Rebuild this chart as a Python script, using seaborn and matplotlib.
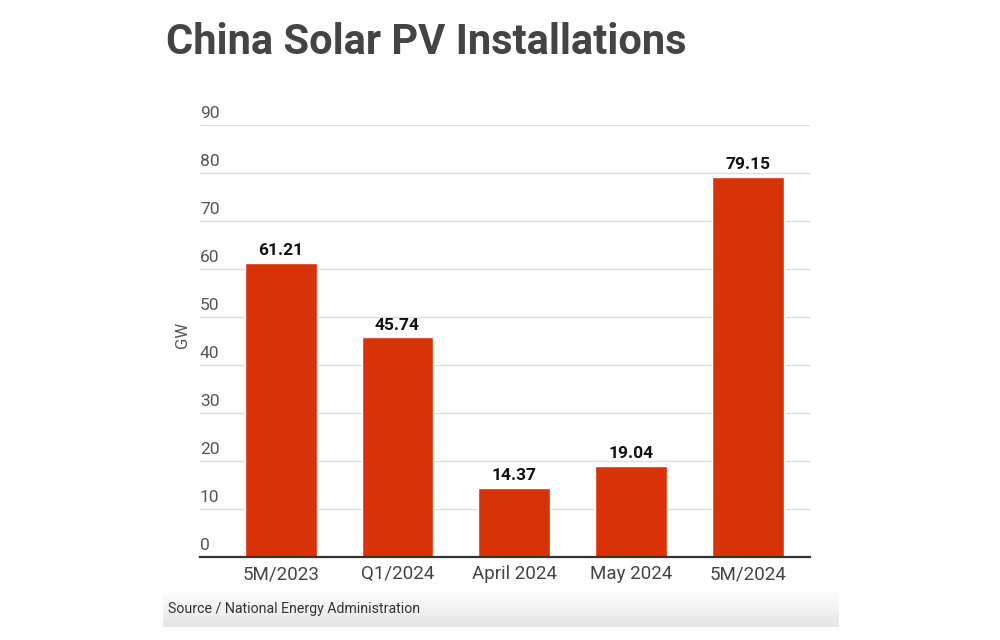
import matplotlib
matplotlib.use("Agg")
import matplotlib.pyplot as plt
import seaborn as sns
import numpy as np
import pandas as pd

categories = ["5M/2023", "Q1/2024", "April 2024", "May 2024", "5M/2024"]
values = [61.21, 45.74, 14.37, 19.04, 79.15]
value_labels = ["61.21", "45.74", "14.37", "19.04", "79.15"]
yticks = [0, 10, 20, 30, 40, 50, 60, 70, 80, 90]

sns.set_theme(style="white")
plt.rcParams['font.family'] = ['Roboto', 'DejaVu Sans']

df = pd.DataFrame({"cat": categories, "val": values})

W, H = 1000, 640
fig = plt.figure(figsize=(W / 100, H / 100), dpi=100)
fig.patch.set_facecolor("white")

# axes: x 200..810, y 125..557 (pixels)
ax = fig.add_axes([200 / W, 1 - 557 / H, 610 / W, (557 - 125) / H])
sns.barplot(data=df, x="cat", y="val", color="#D93208", saturation=1,
            width=0.615, ax=ax, zorder=3)
ax.set_xlim(-0.69, 4.53)
ax.set_ylim(0, 90)

for s in ["top", "right", "left"]:
    ax.spines[s].set_visible(False)
ax.spines["bottom"].set_color("#333333")
ax.spines["bottom"].set_linewidth(1.6)
ax.spines["bottom"].set_zorder(4)

ax.set_yticks(yticks)
ax.set_yticklabels([])
ax.tick_params(axis="y", length=0)
ax.yaxis.grid(True, color="#dddddd", linewidth=1, zorder=0)
ax.set_axisbelow(True)

trans = ax.get_yaxis_transform()
for t in yticks:
    ax.text(0.0, t + 0.8, str(t), transform=trans, ha="left", va="bottom",
            fontsize=12.5, color="#555555")

ax.tick_params(axis="x", length=0, pad=6, labelsize=13.5, labelcolor="#444444")
ax.set_xlabel("")
ax.set_ylabel("")

for i, (v, lab) in enumerate(zip(values, value_labels)):
    ax.text(i, v + 1.0, lab, ha="center", va="bottom", fontsize=12.5,
            fontweight="bold", color="#111111")

fig.text(183 / W, 1 - 335 / H, "GW", rotation=90, ha="center", va="center",
         fontsize=12, color="#555555")

fig.text(166 / W, 1 - 43 / H, "China Solar PV Installations", ha="left",
         va="center", fontsize=30, fontweight="bold", color="#444444")

# source band with gradient
bax = fig.add_axes([163 / W, 1 - 627 / H, (838 - 163) / W, (627 - 590) / H])
grad = np.linspace(1.0, 0.9, 50).reshape(-1, 1)
bax.imshow(np.dstack([grad, grad, grad]), aspect="auto", extent=[0, 1, 0, 1],
           origin="upper")
bax.set_axis_off()
fig.text(168 / W, 1 - 609 / H, "Source / National Energy Administration",
         ha="left", va="center", fontsize=10.2, color="#333333")

fig.savefig("out.png", dpi=100)
